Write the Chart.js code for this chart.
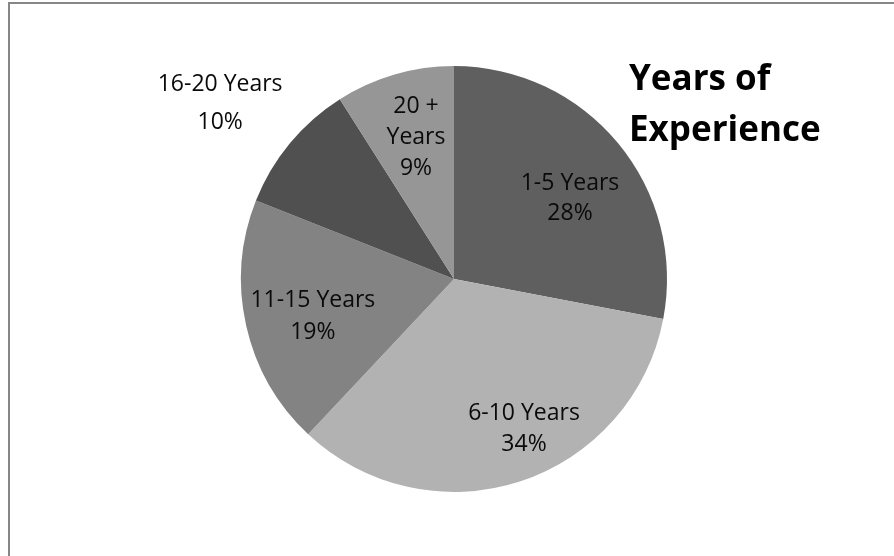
<!DOCTYPE html>
<html>
<head>
<meta charset="utf-8">
<script src="https://cdn.jsdelivr.net/npm/chart.js@4.4.0/dist/chart.umd.min.js"></script>
<style>
  html, body { margin: 0; padding: 0; background: #ffffff; }
  #wrap { width: 894px; height: 556px; position: relative; }
</style>
</head>
<body>
<div id="wrap"><canvas id="pie" width="894" height="556"></canvas></div>
<script>
// Share of staff by years of experience
const categories = ['1-5 Years', '6-10 Years', '11-15 Years', '16-20 Years', '20 + Years'];
const shares = [28, 34, 19, 10, 9];
const sliceColors = ['#5f5f5f', '#b2b2b2', '#838383', '#505050', '#969696'];
const titleLines = ['Years of', 'Experience'];

// Where each data label sits: fraction of the radius along the slice's
// middle angle, a small angular nudge (degrees), wrap width and line gap.
const labelPlacement = [
  { f: 0.664, shift: 4.7,  wrap: 200, gap: 30 },
  { f: 0.775, shift: -7.1, wrap: 200, gap: 31 },
  { f: 0.685, shift: -2.1, wrap: 200, gap: 32 },
  { f: 1.373, shift: -2.7, wrap: 200, gap: 38 },
  { f: 0.689, shift: 1.2,  wrap: 60,  gap: 31 }
];

const LABEL_FONT = '23px "Open Sans"';
const TITLE_FONT = 'bold 35px "Open Sans"';

function wrapText(ctx, text, maxW) {
  const words = text.split(' ');
  const lines = [];
  let cur = '';
  for (const w of words) {
    const test = cur ? cur + ' ' + w : w;
    if (cur && ctx.measureText(test).width > maxW) {
      lines.push(cur);
      cur = w;
    } else {
      cur = test;
    }
  }
  if (cur) lines.push(cur);
  return lines;
}

const framePlugin = {
  id: 'frame',
  beforeDraw(chart) {
    const ctx = chart.ctx;
    ctx.save();
    ctx.strokeStyle = '#878787';
    ctx.lineWidth = 2;
    ctx.beginPath();
    ctx.moveTo(9, 556);
    ctx.lineTo(9, 3);
    ctx.lineTo(894, 3);
    ctx.stroke();
    ctx.restore();
  }
};

const labelPlugin = {
  id: 'sliceLabels',
  afterDatasetsDraw(chart) {
    const ctx = chart.ctx;
    const meta = chart.getDatasetMeta(0);
    const values = chart.data.datasets[0].data;
    const total = values.reduce((a, b) => a + b, 0);
    ctx.save();
    ctx.font = LABEL_FONT;
    ctx.fillStyle = '#0a0a0a';
    ctx.textAlign = 'center';
    ctx.textBaseline = 'middle';
    meta.data.forEach((arc, i) => {
      const p = arc.getProps(['x', 'y', 'startAngle', 'endAngle', 'outerRadius'], true);
      const place = labelPlacement[i];
      const mid = (p.startAngle + p.endAngle) / 2 + place.shift * Math.PI / 180;
      const r = p.outerRadius * place.f;
      const cx = p.x + Math.cos(mid) * r;
      const cy = p.y + Math.sin(mid) * r;
      const pct = Math.round(values[i] / total * 100) + '%';
      const lines = wrapText(ctx, chart.data.labels[i], place.wrap).concat([pct]);
      lines.forEach((ln, k) => {
        ctx.fillText(ln, cx, cy + (k - (lines.length - 1) / 2) * place.gap);
      });
    });
    ctx.restore();
  }
};

const titlePlugin = {
  id: 'cornerTitle',
  afterDraw(chart) {
    const ctx = chart.ctx;
    ctx.save();
    ctx.font = TITLE_FONT;
    ctx.fillStyle = '#000000';
    ctx.textAlign = 'left';
    ctx.textBaseline = 'alphabetic';
    titleLines.forEach((t, k) => ctx.fillText(t, 629, 90 + k * 51));
    ctx.restore();
  }
};

new Chart(document.getElementById('pie'), {
  type: 'pie',
  data: {
    labels: categories,
    datasets: [{
      data: shares,
      backgroundColor: sliceColors,
      borderWidth: 0
    }]
  },
  options: {
    responsive: false,
    animation: false,
    layout: { padding: { left: 241, right: 227, top: 66, bottom: 64 } },
    plugins: {
      legend: { display: false },
      tooltip: { enabled: false },
      title: { display: false }
    }
  },
  plugins: [framePlugin, labelPlugin, titlePlugin]
});
</script>
</body>
</html>
